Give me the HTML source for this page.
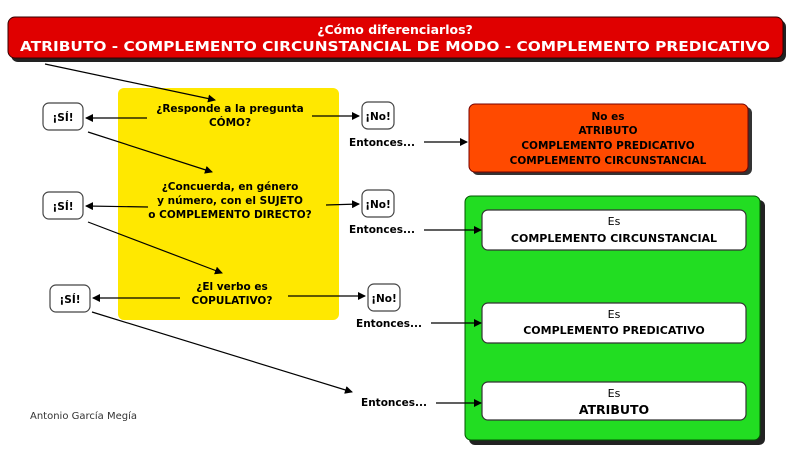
<!DOCTYPE html>
<html><head><meta charset="utf-8"><style>
html,body{margin:0;padding:0;background:#fff;width:800px;height:458px;overflow:hidden}
svg{display:block;font-family:"DejaVu Sans","Liberation Sans",sans-serif}
</style></head><body>
<svg width="800" height="458" viewBox="0 0 800 458" xmlns="http://www.w3.org/2000/svg">
<defs>
<marker id="a" markerWidth="8" markerHeight="8" refX="7" refY="4" orient="auto" markerUnits="userSpaceOnUse"><path d="M0,0 L8,4 L0,8 z" fill="#000"/></marker>
</defs>
<rect x="11" y="20" width="775" height="42" rx="7" fill="#222"/>
<rect x="8" y="17" width="775" height="41" rx="7" fill="#e00000" stroke="#300" stroke-width="1"/>
<text x="395" y="34" font-size="12.5" font-weight="bold" fill="#fff" text-anchor="middle">¿Cómo diferenciarlos?</text>
<text x="395" y="51" font-size="13" font-weight="bold" fill="#fff" text-anchor="middle" textLength="750" lengthAdjust="spacingAndGlyphs">ATRIBUTO - COMPLEMENTO CIRCUNSTANCIAL DE MODO - COMPLEMENTO PREDICATIVO</text>
<rect x="118" y="88" width="221" height="232" rx="6" fill="#ffe800"/>
<g font-size="10.5" fill="#000" text-anchor="middle" font-weight="600">
<text x="230" y="112">¿Responde a la pregunta</text>
<text x="230" y="126">CÓMO?</text>
<text x="230" y="190">¿Concuerda, en género</text>
<text x="230" y="204">y número, con el SUJETO</text>
<text x="230" y="218">o COMPLEMENTO DIRECTO?</text>
<text x="232" y="290">¿El verbo es</text>
<text x="232" y="304">COPULATIVO?</text>
</g>
<g fill="#fff" stroke="#444" stroke-width="1.2">
<rect x="43" y="103" width="40" height="27" rx="6"/>
<rect x="43" y="192" width="40" height="27" rx="6"/>
<rect x="50" y="285" width="40" height="27" rx="6"/>
<rect x="362" y="102" width="32" height="27" rx="6"/>
<rect x="362" y="190" width="32" height="27" rx="6"/>
<rect x="368" y="284" width="32" height="27" rx="6"/>
</g>
<g font-size="10.5" fill="#000" text-anchor="middle" font-weight="600">
<text x="63" y="121">¡SÍ!</text>
<text x="63" y="210">¡SÍ!</text>
<text x="70" y="303">¡SÍ!</text>
<text x="378" y="120">¡No!</text>
<text x="378" y="208">¡No!</text>
<text x="384" y="302">¡No!</text>
<text x="382" y="146">Entonces...</text>
<text x="382" y="233">Entonces...</text>
<text x="389" y="327">Entonces...</text>
<text x="394" y="406">Entonces...</text>
</g>
<text x="30" y="419" font-size="10" fill="#333">Antonio García Megía</text>
<rect x="472" y="107" width="280" height="68" rx="6" fill="#333"/>
<rect x="469" y="104" width="279" height="68" rx="6" fill="#ff4a00" stroke="#700" stroke-width="1"/>
<g font-size="10.5" fill="#000" text-anchor="middle" font-weight="600">
<text x="608" y="120" font-weight="bold">No es</text>
<text x="608" y="134">ATRIBUTO</text>
<text x="608" y="149">COMPLEMENTO PREDICATIVO</text>
<text x="608" y="164">COMPLEMENTO CIRCUNSTANCIAL</text>
</g>
<rect x="469" y="200" width="296" height="245" rx="6" fill="#222"/>
<rect x="465" y="196" width="295" height="244" rx="6" fill="#22dd22" stroke="#050" stroke-width="1"/>
<g fill="#fff" stroke="#333" stroke-width="1.2">
<rect x="482" y="210" width="264" height="40" rx="6"/>
<rect x="482" y="303" width="264" height="40" rx="6"/>
<rect x="482" y="382" width="264" height="38" rx="6"/>
</g>
<g font-size="11" fill="#000" text-anchor="middle" font-weight="bold">
<text x="614" y="225" font-weight="normal">Es</text>
<text x="614" y="242">COMPLEMENTO CIRCUNSTANCIAL</text>
<text x="614" y="318" font-weight="normal">Es</text>
<text x="614" y="334">COMPLEMENTO PREDICATIVO</text>
<text x="614" y="397" font-weight="normal">Es</text>
<text x="614" y="414" font-size="12.5">ATRIBUTO</text>
</g>
<g stroke="#000" stroke-width="1.2" fill="none" marker-end="url(#a)">
<line x1="45" y1="64" x2="215" y2="100"/>
<line x1="147" y1="118" x2="86" y2="118"/>
<line x1="312" y1="116" x2="359" y2="116"/>
<line x1="88" y1="132" x2="212" y2="172"/>
<line x1="148" y1="207" x2="86" y2="206"/>
<line x1="326" y1="205" x2="359" y2="204"/>
<line x1="88" y1="222" x2="222" y2="273"/>
<line x1="180" y1="298" x2="93" y2="298"/>
<line x1="288" y1="296" x2="365" y2="296"/>
<line x1="92" y1="312" x2="352" y2="392"/>
<line x1="424" y1="142" x2="467" y2="142"/>
<line x1="424" y1="230" x2="481" y2="230"/>
<line x1="431" y1="323" x2="481" y2="323"/>
<line x1="436" y1="403" x2="481" y2="403"/>
</g>
</svg>
</body></html>
